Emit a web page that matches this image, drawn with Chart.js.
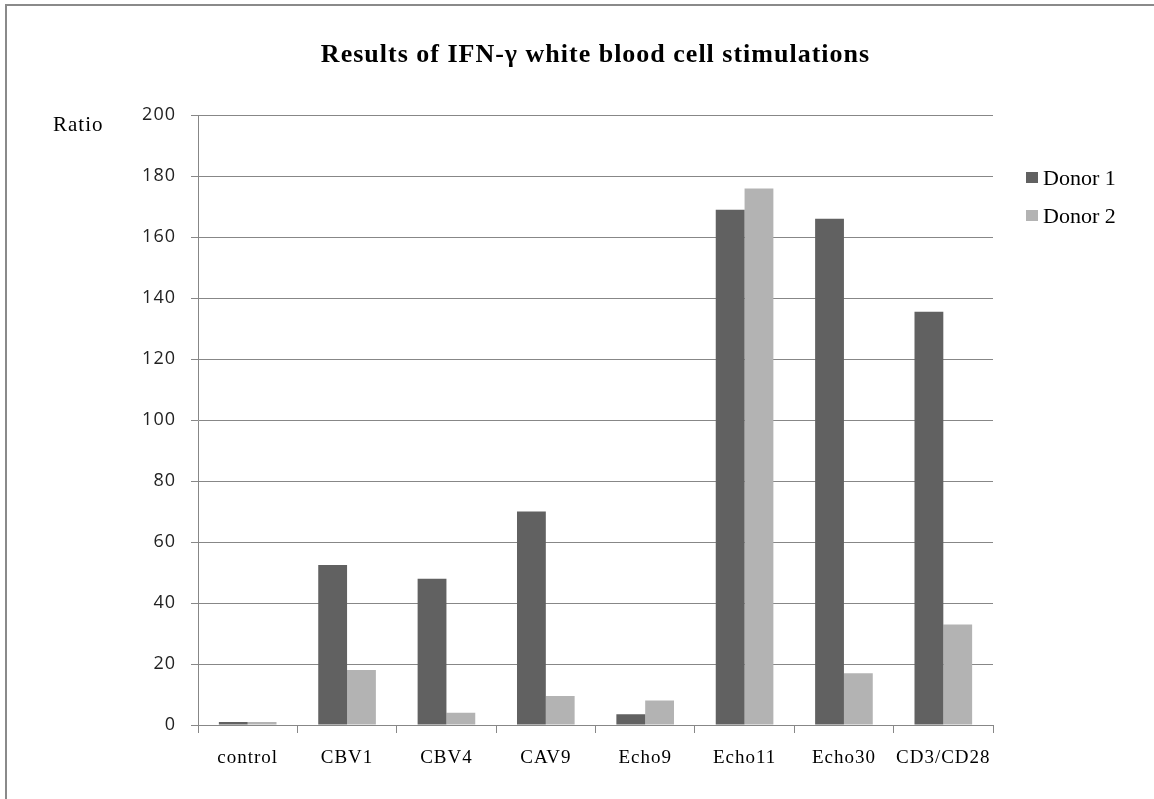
<!DOCTYPE html>
<html lang="en">
<head>
  <meta charset="UTF-8">
  <title>Results of IFN-γ white blood cell stimulations</title>
  <script src="https://cdn.jsdelivr.net/npm/chart.js@4.4.1/dist/chart.umd.min.js"></script>
  <style>
    html, body { margin: 0; padding: 0; background: #fff; overflow: hidden; }
    #frame { position: absolute; left: 5px; top: 4px; width: 1300px; height: 900px;
             border-left: 2px solid #8a8a8a; border-top: 2px solid #8a8a8a; }
    #chart { position: absolute; left: 0; top: 0; }
    #ratio { position: absolute; left: 53px; top: 114px; font: 21px/21px "Liberation Serif", serif;
             letter-spacing: 1px; color: #000; }
    #legend { position: absolute; left: 1026px; top: 159px; font: 22px "Liberation Serif", serif; color: #000; }
    #legend div { height: 38px; line-height: 38px; white-space: nowrap; }
    #legend span { display: inline-block; width: 12px; height: 11px; margin-right: 5px; vertical-align: 2px; }
  </style>
</head>
<body>
  <div id="frame"></div>
  <canvas id="chart" width="1154" height="799"></canvas>
  <div id="ratio">Ratio</div>
  <div id="legend"></div>

  <script>
    // chart data
    const categories = ['control', 'CBV1', 'CBV4', 'CAV9', 'Echo9', 'Echo11', 'Echo30', 'CD3/CD28'];
    const donor1 = [1, 52.5, 48, 70, 3.5, 169, 166, 135.5];
    const donor2 = [1, 18, 4, 9.5, 8, 176, 17, 33];
    const seriesNames = ['Donor 1', 'Donor 2'];
    const seriesColors = ['#616161', '#b3b3b3'];
    const yMin = 0, yMax = 200, yStep = 20;

    const gridColor = '#878787';

    // legend is plain html to the right of the plot
    const legend = document.getElementById('legend');
    seriesNames.forEach((name, i) => {
      legend.innerHTML += `<div><span style="background:${seriesColors[i]}"></span>${name}</div>`;
    });

    // the original text is slightly spaced out
    const spacing = {
      id: 'spacing',
      beforeDraw(chart) { chart.ctx.letterSpacing = '1px'; }
    };

    const ctx = document.getElementById('chart').getContext('2d');
    new Chart(ctx, {
      type: 'bar',
      data: {
        labels: categories,
        datasets: [
          { label: seriesNames[0], data: donor1, backgroundColor: seriesColors[0] },
          { label: seriesNames[1], data: donor2, backgroundColor: seriesColors[1] }
        ]
      },
      options: {
        responsive: false,
        animation: false,
        categoryPercentage: 0.58,
        barPercentage: 1.0,
        layout: { padding: { left: 0, right: 161, top: 0, bottom: 0 } },
        plugins: {
          legend: { display: false },
          tooltip: { enabled: false },
          title: {
            display: true,
            fullSize: false,
            text: 'Results of IFN-γ white blood cell stimulations',
            color: '#000',
            font: { family: 'Liberation Serif', size: 26, weight: 'bold' },
            padding: { top: 40, bottom: 44 }
          }
        },
        scales: {
          x: {
            grid: { offset: true, drawOnChartArea: false, tickLength: 8, color: gridColor },
            border: { color: gridColor },
            ticks: { color: '#000', padding: 14, font: { family: 'Liberation Serif', size: 19 } },
            afterFit: s => { s.height = 74; }
          },
          y: {
            min: yMin,
            max: yMax,
            ticks: { stepSize: yStep, color: '#222', padding: 15, font: { family: 'Open Sans', size: 18 } },
            grid: { color: gridColor, tickLength: 7 },
            border: { color: gridColor },
            afterFit: s => { s.width = 198; }
          }
        }
      },
      plugins: [spacing]
    });
  </script>
</body>
</html>
